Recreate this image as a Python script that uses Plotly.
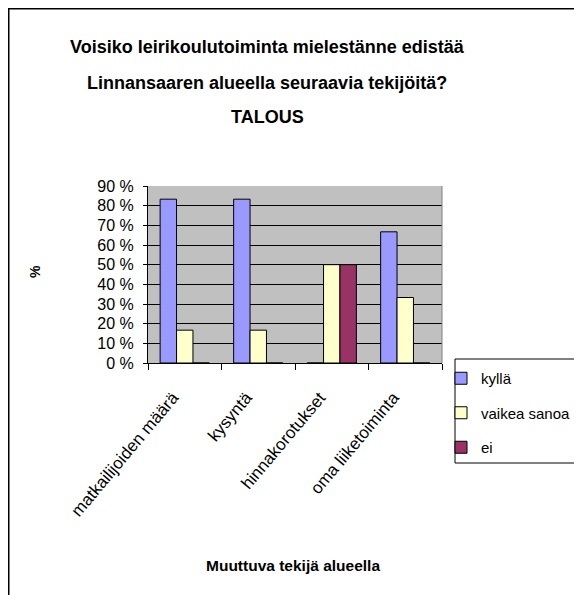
import plotly.graph_objects as go

categories = ["matkailijoiden määrä", "kysyntä", "hinnakorotukset", "oma liiketoiminta"]
kylla = [83.3, 83.3, 0, 66.7]
vaikea_sanoa = [16.7, 16.7, 50.0, 33.3]
ei = [0, 0, 50.0, 0]

series = [
    ("kyllä", kylla, "#9999FF"),
    ("vaikea sanoa", vaikea_sanoa, "#FFFFCC"),
    ("ei", ei, "#993366"),
]

title_lines = [
    "Voisiko leirikoulutoiminta mielestänne edistää",
    "Linnansaaren alueella seuraavia tekijöitä?",
    "TALOUS",
]

FONT = "Liberation Sans, Arial, sans-serif"

# the page body has an 8px margin, so the figure starts at (8, 8)
OFF = 8
PAGE_W, PAGE_H = 582, 595
FIG_W, FIG_H = PAGE_W - OFF, PAGE_H - OFF

# plot area in page pixels
L, R, T, B = 148, 442, 186, 363
W, H = R - L, B - T


def px(x):
    return (x - L) / W


def py(y):
    return (B - y) / H


fig = go.Figure()
for i, (name, vals, color) in enumerate(series):
    fig.add_trace(
        go.Bar(
            x=categories,
            y=vals,
            name=name,
            legendgroup=f"g{i}",
            marker=dict(color=color, line=dict(color="black", width=1)),
        )
    )

fig.update_layout(
    width=FIG_W,
    height=FIG_H,
    margin=dict(l=L - OFF, r=FIG_W - (R - OFF), t=T - OFF, b=FIG_H - (B - OFF), autoexpand=False),
    paper_bgcolor="white",
    plot_bgcolor="#C0C0C0",
    barmode="group",
    bargap=0.33,
    bargroupgap=0,
    font=dict(family=FONT, size=14, color="black"),
    showlegend=True,
    legend=dict(
        x=px(441),
        y=py(362),
        xanchor="left",
        yanchor="top",
        borderwidth=0,
        bgcolor="rgba(0,0,0,0)",
        font=dict(size=15),
        tracegroupgap=12,
        itemwidth=30,
    ),
)

fig.update_yaxes(
    range=[0, 90],
    dtick=10,
    ticksuffix=" %",
    showgrid=True,
    gridcolor="black",
    gridwidth=1,
    showline=True,
    linecolor="black",
    linewidth=1,
    ticks="outside",
    ticklen=4,
    tickcolor="black",
    tickfont=dict(size=16),
    ticklabelstandoff=6,
    zeroline=False,
)
fig.update_xaxes(
    type="category",
    showline=True,
    linecolor="black",
    linewidth=1,
    ticks="outside",
    tickson="boundaries",
    ticklen=6,
    tickcolor="black",
    tickangle=-50,
    tickfont=dict(size=17),
    ticklabelstandoff=17,
    ticklabelshift=-12,
)

# grey right edge of the plot area
fig.add_shape(type="line", xref="paper", yref="paper", x0=1, x1=1, y0=0, y1=1,
              line=dict(color="#808080", width=1))

# outer chart frame (cut off at the right and bottom)
fig.add_shape(type="rect", xref="paper", yref="paper",
              x0=px(8.5), y0=py(8.5), x1=px(800), y1=py(800),
              line=dict(color="black", width=2), layer="below")

# legend frame (cut off at the right)
fig.add_shape(type="rect", xref="paper", yref="paper",
              x0=px(455), y0=py(359), x1=px(700), y1=py(463),
              line=dict(color="black", width=1), fillcolor="white", layer="below")

for line, y in zip(title_lines, [47, 83, 117]):
    fig.add_annotation(text=f"<b>{line}</b>", xref="paper", yref="paper",
                       x=px(267), y=py(y), xanchor="center", yanchor="middle",
                       showarrow=False, font=dict(size=18))

fig.add_annotation(text="<b>%</b>", xref="paper", yref="paper",
                   x=px(35), y=py(272), xanchor="center", yanchor="middle",
                   showarrow=False, textangle=-90, font=dict(size=14))

fig.add_annotation(text="<b>Muuttuva tekijä alueella</b>", xref="paper", yref="paper",
                   x=px(293), y=py(565), xanchor="center", yanchor="middle",
                   showarrow=False, font=dict(size=15.5))

fig.write_html("out.html")
